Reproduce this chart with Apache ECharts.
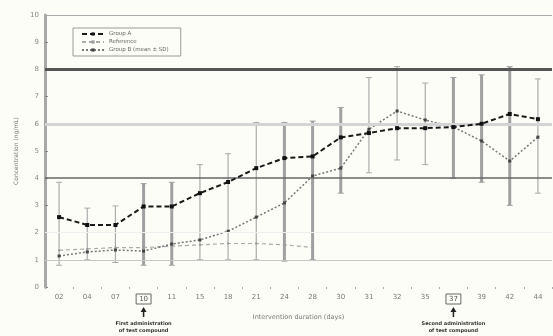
<!DOCTYPE html>
<html>
<head>
<meta charset="utf-8">
<script src="https://cdn.jsdelivr.net/npm/echarts@6/dist/echarts.min.js"></script>
<style>
  html, body { margin: 0; padding: 0; background: #fdfdf7; }
  #chart { width: 553px; height: 336px; }
</style>
</head>
<body>
<div id="chart"></div>
<script>
// sampling days (boxed ones = dosing days)
const days = ['02', '04', '07', '10', '11', '15', '18', '21', '24', '28', '30', '31', '32', '35', '37', '39', '42', '44'];
const boxedDays = ['10', '37'];
const yTicks = [0, 10, 1];

// mean values
const groupA = [2.57, 2.28, 2.28, 2.96, 2.96, 3.45, 3.86, 4.37, 4.74, 4.8, 5.5, 5.66, 5.84, 5.84, 5.88, 6.0, 6.36, 6.17];
const groupB = [1.14, 1.29, 1.36, 1.32, 1.58, 1.73, 2.05, 2.57, 3.09, 4.08, 4.37, 5.8, 6.47, 6.14, 5.88, 5.37, 4.63, 5.51];
const reference = [1.35, 1.4, 1.45, 1.45, 1.5, 1.55, 1.6, 1.6, 1.55, 1.45, null, null, null, null, null, null, null, null];

// error ranges (low, high)
const errThickLow  = [null, null, null, 0.8, 0.8, null, null, null, 0.95, 1.0, 3.45, null, null, null, 4.0, 3.85, 3.0, null];
const errThickHigh = [null, null, null, 3.8, 3.85, null, null, null, 6.05, 6.1, 6.6, null, null, null, 7.7, 7.8, 8.1, null];
const errThinLow   = [0.8, 1.0, 0.9, null, null, 1.0, 1.0, 1.0, null, null, null, 4.2, 4.67, 4.5, null, null, null, 3.45];
const errThinHigh  = [3.85, 2.9, 2.98, null, null, 4.5, 4.9, 6.05, null, null, null, 7.7, 8.1, 7.5, null, null, null, 7.65];

const refLines = [
  { y: 10, color: '#aaa', width: 1 },
  { y: 8, color: '#555', width: 3 },
  { y: 6, color: '#d4d4d4', width: 3 },
  { y: 4, color: '#666', width: 1.5 },
  { y: 2, color: '#eee', width: 1 },
  { y: 1, color: '#c8c8c8', width: 1 }
];

const chart = echarts.init(document.getElementById('chart'));

// error bar renderer
function errBar(lineW, color) {
  return function (params, api) {
    const lo = api.value(1), hi = api.value(2);
    if (lo == null || hi == null || isNaN(lo) || isNaN(hi)) return;
    const p1 = api.coord([api.value(0), lo]);
    const p2 = api.coord([api.value(0), hi]);
    const cap = 3;
    const style = { stroke: color, lineWidth: lineW };
    return {
      type: 'group',
      children: [
        { type: 'line', shape: { x1: p1[0], y1: p1[1], x2: p2[0], y2: p2[1] }, style: style },
        { type: 'line', shape: { x1: p1[0] - cap, y1: p1[1], x2: p1[0] + cap, y2: p1[1] }, style: { stroke: color, lineWidth: 1 } },
        { type: 'line', shape: { x1: p2[0] - cap, y1: p2[1], x2: p2[0] + cap, y2: p2[1] }, style: { stroke: color, lineWidth: 1 } }
      ]
    };
  };
}

const option = {
  backgroundColor: '#fdfdf7',
  animation: false,
  textStyle: { fontFamily: 'DejaVu Sans' },
  grid: { left: 45, right: 1, top: 15, bottom: 49 },
  legend: {
    left: 73, top: 28,
    orient: 'vertical',
    itemWidth: 22, itemHeight: 4, itemGap: 2,
    padding: [3, 12, 3, 8],
    borderColor: '#999', borderWidth: 1,
    textStyle: { fontSize: 5.5, color: '#666' },
    data: ['Group A', 'Reference', 'Group B (mean ± SD)']
  },
  xAxis: {
    type: 'category',
    data: days,
    name: 'Intervention duration (days)',
    nameLocation: 'middle',
    nameGap: 27,
    nameTextStyle: { fontSize: 6.5, color: '#777' },
    axisLine: { show: false },
    axisTick: { show: true, length: 2, lineStyle: { color: '#aaa' } },
    axisLabel: {
      interval: 0,
      fontSize: 7, color: '#777', margin: 7,
      formatter: function (v) { return boxedDays.indexOf(v) >= 0 ? '{box|' + v + '}' : v; },
      rich: { box: { fontSize: 7, color: '#555', borderColor: '#666', borderWidth: 1, padding: [2, 3, 1, 3] } }
    },
    splitLine: { show: false }
  },
  yAxis: {
    type: 'value',
    min: yTicks[0], max: yTicks[1], interval: yTicks[2],
    name: 'Concentration (ng/mL)',
    nameLocation: 'middle',
    nameGap: 26,
    nameTextStyle: { fontSize: 6, color: '#777' },
    axisLine: { show: true, lineStyle: { color: '#a8a8a8', width: 3 } },
    axisTick: { show: true, length: 3, inside: true, lineStyle: { color: '#888' } },
    axisLabel: { fontSize: 7, color: '#888', margin: 6 },
    splitLine: { show: false }
  },
  series: [
    {
      type: 'line', name: '_refs', data: [], silent: true,
      markLine: {
        symbol: 'none', silent: true, label: { show: false },
        data: refLines.map(function (r) {
          return { yAxis: r.y, lineStyle: { color: r.color, width: r.width, type: 'solid' } };
        })
      }
    },
    {
      type: 'custom', name: 'errThick', z: 2,
      renderItem: errBar(3, '#a0a0a0'),
      data: days.map(function (d, i) { return [i, errThickLow[i], errThickHigh[i]]; })
    },
    {
      type: 'custom', name: 'errThin', z: 2,
      renderItem: errBar(1.2, '#aaa'),
      data: days.map(function (d, i) { return [i, errThinLow[i], errThinHigh[i]]; })
    },
    {
      type: 'line', name: 'Reference', data: reference, z: 3,
      lineStyle: { color: '#aaa', width: 1.2, type: [4, 3] },
      itemStyle: { color: '#999' },
      symbol: 'rect', symbolSize: 2, showSymbol: true
    },
    {
      type: 'line', name: 'Group B (mean ± SD)', data: groupB, z: 4,
      lineStyle: { color: '#777', width: 1.5, type: [2, 2] },
      itemStyle: { color: '#444' },
      symbol: 'rect', symbolSize: 3
    },
    {
      type: 'line', name: 'Group A', data: groupA, z: 5,
      lineStyle: { color: '#1a1a1a', width: 2, type: [5, 3] },
      itemStyle: { color: '#111' },
      symbol: 'rect', symbolSize: 4
    }
  ]
};

chart.setOption(option);

// dosing annotations under the boxed days
const notes = [
  ['First administration', 'of test compound'],
  ['Second administration', 'of test compound']
];
const graphics = [];
boxedDays.forEach(function (d, k) {
  const x = chart.convertToPixel({ xAxisIndex: 0 }, d);
  graphics.push(
    { type: 'line', shape: { x1: x, y1: 317, x2: x, y2: 311 }, style: { stroke: '#222', lineWidth: 1.5 } },
    { type: 'polygon', shape: { points: [[x - 3, 312], [x + 3, 312], [x, 307]] }, style: { fill: '#222' } },
    { type: 'text', x: x, y: 321, style: { text: notes[k][0], fontSize: 5, fontWeight: 'bold', fill: '#333', align: 'center', fontFamily: 'DejaVu Sans' } },
    { type: 'text', x: x, y: 328, style: { text: notes[k][1], fontSize: 5, fontWeight: 'bold', fill: '#333', align: 'center', fontFamily: 'DejaVu Sans' } }
  );
});
chart.setOption({ graphic: graphics });
</script>
</body>
</html>
